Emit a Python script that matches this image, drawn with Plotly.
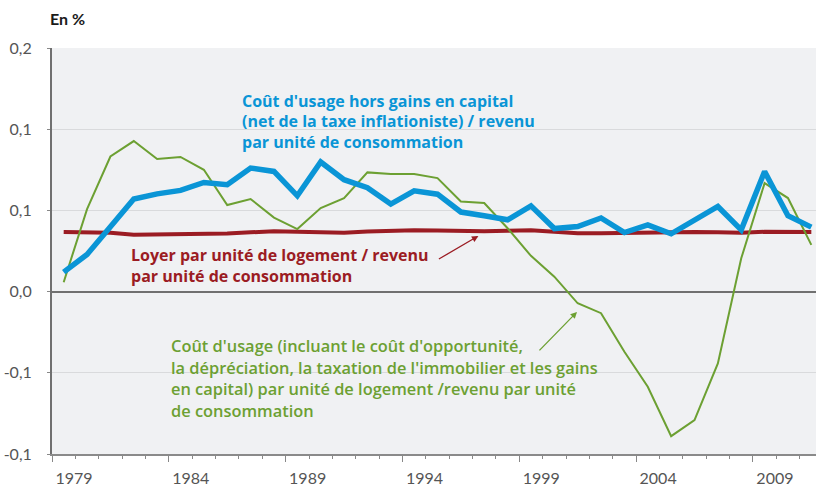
import plotly.graph_objects as go

years = list(range(1979, 2012))

cout_usage_hors_gains = [0.012, 0.0229, 0.0399, 0.057, 0.0602, 0.0623, 0.0672, 0.0658, 0.0761, 0.074,
                         0.059, 0.0798, 0.0689, 0.064, 0.0539, 0.0621, 0.060, 0.049, 0.0467, 0.0442,
                         0.0528, 0.0388, 0.0401, 0.0453, 0.0364, 0.0411, 0.0356, 0.0438, 0.0524, 0.038,
                         0.074, 0.0467, 0.0397]

loyer = [0.0367, 0.0367, 0.0363, 0.035, 0.0351, 0.0353, 0.0353, 0.0357, 0.0365, 0.0372,
         0.0368, 0.0365, 0.0363, 0.037, 0.0375, 0.0378, 0.0377, 0.0372, 0.0372, 0.0374,
         0.0378, 0.0368, 0.036, 0.036, 0.0362, 0.0365, 0.0368, 0.0367, 0.0365, 0.0362,
         0.0368, 0.0368, 0.0367]

cout_usage = [0.0058, 0.0508, 0.0832, 0.0927, 0.0816, 0.0829, 0.075, 0.0533, 0.057, 0.0456,
              0.0385, 0.0514, 0.0576, 0.0734, 0.0724, 0.0724, 0.0699, 0.0555, 0.0545, 0.039,
              0.022, 0.0092, -0.0072, -0.0133, -0.037, -0.0586, -0.089, -0.0791, -0.0442, 0.0205,
              0.0668, 0.0576, 0.0288]

x_tick_labels = ["1979", "1984", "1989", "1994", "1999", "2004", "2009"]
x_tick_pos = [1978.5, 1983.5, 1988.5, 1993.5, 1998.5, 2003.5, 2008.5]
y_tick_vals = [-0.1, -0.05, 0, 0.05, 0.1, 0.15]
y_tick_labels = ["-0,1", "-0,1", "0,0", "0,1", "0,1", "0,2"]

label_blue = ["Coût d'usage hors gains en capital",
              "(net de la taxe inflationiste) / revenu",
              "par unité de consommation"]
label_red = ["Loyer par unité de logement / revenu",
             "par unité de consommation"]
label_green = ["Coût d'usage (incluant le coût d'opportunité,",
               "la dépréciation, la taxation de l'immobilier et les gains",
               "en capital) par unité de logement /revenu par unité",
               "de consommation"]

BLUE = "#0a95d6"
RED = "#9b1c23"
GREEN = "#6ca032"
FONT = "Lato"
AFONT = "Open Sans"

fig = go.Figure()
fig.add_trace(go.Scatter(x=years, y=loyer, mode="lines",
                         line=dict(color=RED, width=4), hoverinfo="skip"))
fig.add_trace(go.Scatter(x=years, y=cout_usage, mode="lines",
                         line=dict(color=GREEN, width=2), hoverinfo="skip"))
fig.add_trace(go.Scatter(x=years, y=cout_usage_hors_gains, mode="lines",
                         line=dict(color=BLUE, width=5.5), hoverinfo="skip"))

annots = []


def add_block(lines, x, y, color, weight, size, spacing):
    for i, line in enumerate(lines):
        annots.append(dict(x=x, y=y, yshift=-spacing * i, xref="x", yref="y",
                           xanchor="left", yanchor="middle", align="left",
                           showarrow=False, text=line,
                           font=dict(family=AFONT, size=size, color=color, weight=weight)))


add_block(label_blue, 1986.55, 0.1176, BLUE, 700, 16, 20.8)
add_block(label_red, 1981.8, 0.0226, RED, 700, 16, 20.8)
add_block(label_green, 1983.5, -0.0334, GREEN, 600, 16.4, 21.4)

annots += [
    dict(x=1996.75, y=0.0343, xref="x", yref="y", ax=-41, ay=24, axref="pixel", ayref="pixel",
         showarrow=True, arrowhead=2, arrowsize=1, arrowwidth=1.3, arrowcolor=RED, text=""),
    dict(x=2000.97, y=-0.0125, xref="x", yref="y", ax=-39, ay=40, axref="pixel", ayref="pixel",
         showarrow=True, arrowhead=2, arrowsize=1, arrowwidth=1.3, arrowcolor=GREEN, text=""),
    dict(x=-0.005, y=1.0715, xref="paper", yref="paper", xanchor="left", yanchor="middle",
         showarrow=False, text="<b>En %</b>",
         font=dict(family=FONT, size=16, color="#1a1a1a")),
]

fig.update_layout(
    template="none",
    width=816, height=486,
    margin=dict(l=52, r=0, t=48, b=32, autoexpand=False),
    paper_bgcolor="white",
    plot_bgcolor="#f0f1f3",
    showlegend=False,
    annotations=annots,
    font=dict(family=FONT, size=16, color="#555555"),
)

fig.update_xaxes(
    automargin=False,
    range=[1978.5, 2011.2],
    tickmode="array", tickvals=x_tick_pos, ticktext=x_tick_labels,
    ticks="outside", ticklen=6, tickwidth=1, tickcolor="#888888",
    ticklabelshift=22, ticklabelstandoff=3,
    minor=dict(tickmode="linear", tick0=1978.5, dtick=1, ticks="outside", ticklen=3,
               tickwidth=1, tickcolor="#888888", showgrid=False),
    showgrid=False, zeroline=False,
    showline=True, linecolor="#8a8a8a", linewidth=2,
    tickfont=dict(family=FONT, size=16, color="#555555"),
)

fig.update_yaxes(
    automargin=False,
    range=[-0.1, 0.15],
    tickmode="array", tickvals=y_tick_vals, ticktext=y_tick_labels,
    ticks="outside", ticklen=3, tickcolor="#888888",
    ticklabelstandoff=12,
    showgrid=True, gridcolor="#d9dadc", gridwidth=1,
    zeroline=True, zerolinecolor="#707070", zerolinewidth=2,
    showline=True, linecolor="#707070", linewidth=2,
    tickfont=dict(family=FONT, size=16, color="#555555"),
)

fig.write_html("out.html", config={"displayModeBar": False},
               post_script="document.body.style.margin='0px';")
